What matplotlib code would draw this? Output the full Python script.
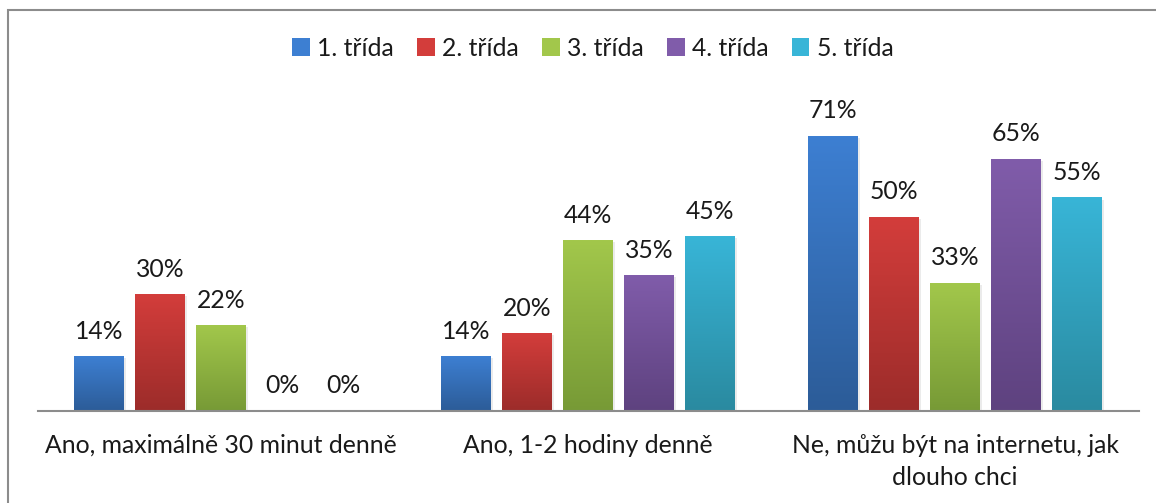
import numpy as np
import matplotlib.pyplot as plt
from matplotlib.colors import LinearSegmentedColormap
from matplotlib.patches import Rectangle

categories = ["Ano, maximálně 30 minut denně",
              "Ano, 1-2 hodiny denně",
              "Ne, můžu být na internetu, jak\ndlouho chci"]
series = ["1. třída", "2. třída", "3. třída", "4. třída", "5. třída"]
values = [
    [14, 14, 71],
    [30, 20, 50],
    [22, 44, 33],
    [0, 35, 65],
    [0, 45, 55],
]
# (top, bottom) gradient colours per series
colors = [
    ("#3d7fd2", "#2c5c98"),
    ("#d33d3b", "#9c2c2a"),
    ("#a2c74b", "#779a36"),
    ("#805caa", "#5e427f"),
    ("#38b5d7", "#2a8aa0"),
]

plt.rcParams['font.family'] = ['Lato', 'DejaVu Sans']
FS = 17.8

W, H = 1156, 503
fig = plt.figure(figsize=(W / 100, H / 100), dpi=100)
ax = fig.add_axes([37.5 / W, 1 - 411 / H, 1101 / W, 311 / H])

step = 61 / 367
width = 50 / 367
x = np.arange(len(categories))

for i, (name, vals, (c_top, c_bot)) in enumerate(zip(series, values, colors)):
    xs = x + (i - 2) * step
    bars = ax.bar(xs, vals, width, color=c_top, label=name, zorder=2)
    cmap = LinearSegmentedColormap.from_list("g%d" % i, [c_bot, c_top])
    grad = np.linspace(0, 1, 100).reshape(-1, 1)
    for b, v in zip(bars, vals):
        if v <= 0:
            continue
        bx = b.get_x()
        # soft shadow
        ax.add_patch(Rectangle((bx + 0.006, 0), width, v - 0.4, color="#000000",
                               alpha=0.08, zorder=1, lw=0))
        ax.imshow(grad, cmap=cmap, origin="lower", aspect="auto",
                  extent=(bx, bx + width, 0, v), zorder=3)
    for xv, v in zip(xs, vals):
        ax.text(xv, v + 3.6, "%d%%" % v, ha="center", va="bottom",
                fontsize=FS, color="#1a1a1a", zorder=4)

ax.set_xlim(-0.5, 2.5)
ax.set_ylim(0, 80.3)
ax.set_yticks([])
ax.set_xticks(x)
ax.set_xticklabels(categories, fontsize=FS, color="#1a1a1a", linespacing=1.5)
ax.tick_params(axis="x", length=0, pad=16.5)
for s in ["top", "right", "left"]:
    ax.spines[s].set_visible(False)
ax.spines["bottom"].set_color("#8c8c8c")
ax.spines["bottom"].set_linewidth(1.5)
ax.spines["bottom"].set_zorder(5)

leg = fig.legend(loc="center", bbox_to_anchor=(593 / W, 1 - 48 / H), ncol=5,
                 frameon=False, fontsize=FS, handlelength=0.7, handleheight=0.7,
                 handletextpad=0.3, columnspacing=0.95)
for t in leg.get_texts():
    t.set_color("#1a1a1a")

# chart frame (right/bottom edges fall outside the image)
fig.patches.append(Rectangle((8 / W, -0.1), 1.2, 1 - 10 / H + 0.1,
                             transform=fig.transFigure, fill=False,
                             edgecolor="#8c8c8c", lw=1.5))

fig.savefig("out.png", dpi=100)
